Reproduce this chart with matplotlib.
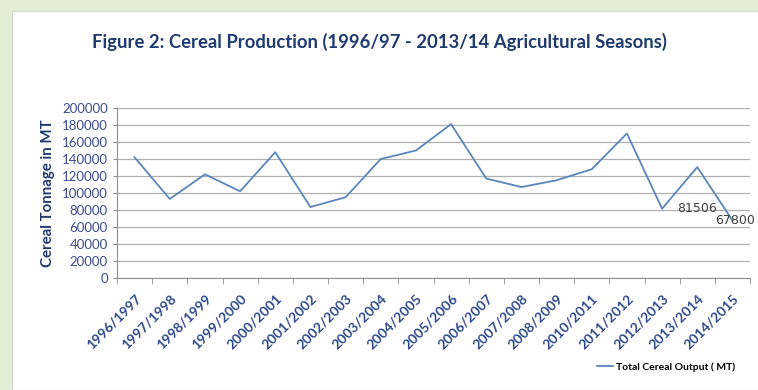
import numpy as np
import matplotlib.pyplot as plt
from matplotlib.patches import Rectangle

seasons = ['1996/1997', '1997/1998', '1998/1999', '1999/2000', '2000/2001',
           '2001/2002', '2002/2003', '2003/2004', '2004/2005', '2005/2006',
           '2006/2007', '2007/2008', '2008/2009', '2010/2011', '2011/2012',
           '2012/2013', '2013/2014', '2014/2015']
output = [142000, 93000, 122000, 102000, 148000,
          83500, 95000, 140000, 150000, 181000,
          117000, 107000, 115000, 128000, 170000,
          81506, 130500, 67800]
labelled = {15: '81506', 17: '67800'}

plt.rcParams['font.family'] = ['Lato', 'DejaVu Sans']
navy = '#1f3b70'
blue = '#5a86bd'

fig = plt.figure(figsize=(7.58, 3.9), dpi=100)
fig.patch.set_facecolor('#e2eed8')
fig.patches.append(Rectangle((12 / 758, 0), 1, 1 - 11 / 390, transform=fig.transFigure,
                             facecolor='white', edgecolor='#d0dcc8', lw=0.8, zorder=-1))

ax = fig.add_axes([117 / 758, 1 - 278 / 390, (750 - 117) / 758, 170 / 390])
ax.set_facecolor('white')
x = np.arange(len(seasons))
ax.plot(x, output, color=blue, lw=1.3, label='Total Cereal Output ( MT)', zorder=3)

for i, txt in labelled.items():
    dx = 25 if i == 15 else 2
    ax.annotate(txt, (x[i], output[i]), xytext=(dx, 0), textcoords='offset points',
                ha='center', va='center', fontsize=9, color='#404040',
                family=['DejaVu Sans'], zorder=4, annotation_clip=False)

ax.set_xlim(-0.5, len(seasons) - 0.5)
ax.set_ylim(0, 200000)
ax.set_yticks(np.arange(0, 200001, 20000))
ax.set_yticklabels([str(v) for v in range(0, 200001, 20000)], color='#3a4d8f', fontsize=9.5)
ax.grid(axis='y', color='#b0b0b0', lw=0.9)
ax.set_axisbelow(True)

ax.set_xticks(x)
ax.set_xticklabels(seasons, rotation=45, ha='right', va='top', rotation_mode='anchor',
                   fontsize=10, color='#2e4a8a', fontweight='bold')
ax.tick_params(axis='x', which='major', length=0, pad=10)
ax.set_xticks(np.arange(-0.5, len(seasons)), minor=True)
ax.tick_params(axis='x', which='minor', length=4, color='#909090', direction='out')
ax.tick_params(axis='y', length=3, color='#909090')

for s in ['top', 'right']:
    ax.spines[s].set_visible(False)
for s in ['left', 'bottom']:
    ax.spines[s].set_color('#909090')

ax.set_ylabel('Cereal Tonnage in MT', fontsize=10.8, fontweight='bold', color=navy, labelpad=5)

fig.text(0.5, 1 - 42 / 390, 'Figure 2: Cereal Production (1996/97 - 2013/14 Agricultural Seasons)',
         ha='center', va='center', fontsize=13.3, fontweight='bold', color=navy)

fig.legend(loc='center right', bbox_to_anchor=(745 / 758, 1 - 367 / 390), frameon=False,
           handlelength=1.6, handletextpad=0.3,
           prop={'weight': 'bold', 'size': 7.5})

fig.savefig('out.png', dpi=100, facecolor=fig.get_facecolor())
